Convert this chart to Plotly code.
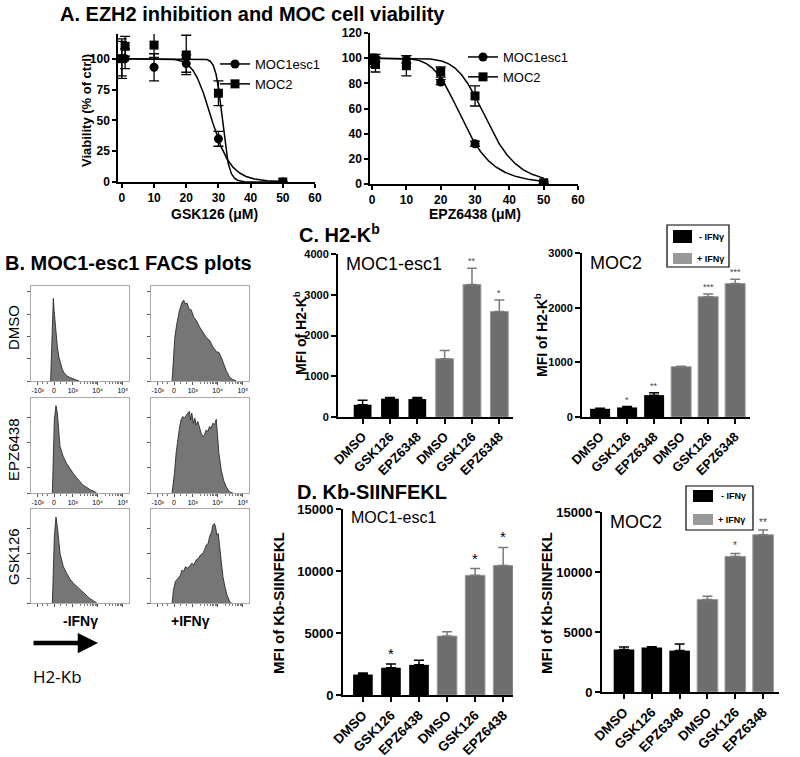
import numpy as np
import plotly.graph_objects as go

W, H = 800, 757
FONT = "Liberation Sans, Arial, sans-serif"

# ---------------- Panel A data ----------------
dose_gsk = [0, 1, 10, 20, 30, 50]
gsk_moc1 = [100, 100, 93, 96, 35, 0]
gsk_moc1_err = [16, 8, 11, 7, 6, 0]
gsk_moc2 = [100, 110, 111, 103, 72, 0]
gsk_moc2_err = [14, 8, 10, 16, 10, 0]
gsk_fit = {"MOC1esc1": (28.0, 9.5), "MOC2": (31.2, 30.0)}   # (IC50, Hill slope)

dose_epz = [0, 1, 10, 20, 30, 50]
epz_moc1 = [100, 100, 99, 81, 32, 0]
epz_moc1_err = [3, 3, 3, 2, 2, 0]
epz_moc2 = [98, 95, 94, 89, 70, 1]
epz_moc2_err = [5, 6, 8, 4, 8, 1]
epz_fit = {"MOC1esc1": (26.5, 6.0), "MOC2": (33.5, 7.5)}

# ---------------- Panel B data (FACS histograms; channel 0-1000, % of box) ----------------
fl_tick_pos = [68, 235, 426, 680, 936]
fl_tick_txt = ["-10³", "0", "10³", "10⁴", "10⁵"]

dmso_neg_x = [200, 207, 214, 221, 228, 236, 245, 252, 260, 269, 285, 303, 320, 338, 365, 390, 415, 441, 470, 493]
dmso_neg_y = [0, 25, 50, 72, 87, 74, 62, 55, 45, 36, 25, 17, 12, 8.6, 5.5, 4, 2.8, 1.7, 0.7, 0]
dmso_pos_x = [215, 229, 243, 263, 290, 317, 334, 352, 369, 386, 410, 437, 461, 495, 529, 563, 597, 631, 666, 693, 717, 741, 768, 802, 836, 870]
dmso_pos_y = [0, 22, 46, 60, 74, 83, 85, 81, 82, 76, 75, 67, 64, 57, 52, 46, 43, 36, 31, 30, 25, 18, 11, 4, 1.4, 0]
epz_neg_x = [218, 228, 238, 255, 269, 296, 330, 364, 398, 432, 466, 500, 534, 568, 602, 636, 670]
epz_neg_y = [0, 42, 77, 92, 84, 49, 38, 31, 25, 20.5, 16, 12, 8, 6, 3.5, 2, 0]
epz_pos_x = [215, 239, 256, 273, 290, 307, 324, 341, 358, 375, 392, 403, 416, 433, 447, 461, 478, 495, 512,
             529, 546, 563, 580, 597, 614, 631, 648, 666, 676, 693, 717, 741, 768, 802, 836]
epz_pos_y = [0, 20.5, 41.7, 55.8, 68.2, 77, 80.6, 78.8, 82.3, 84.1, 85.9, 77, 84.1, 73.5, 78.8, 71.7, 75.3, 68.2,
             62.9, 59.4, 61.1, 66.4, 64.7, 70, 68.2, 73.5, 71.7, 77.7, 62.9, 41.7, 24, 13.4, 6.4, 1.1, 0]
gsk_neg_x = [218, 228, 238, 255, 269, 296, 330, 364, 398, 432, 466, 500, 534, 568, 602, 636, 670]
gsk_neg_y = [0, 38.7, 70.4, 91.5, 81, 52.8, 38.7, 31.7, 25.4, 21.1, 17.6, 14.1, 10.6, 7, 4.6, 2.5, 0]
gsk_pos_x = [215, 229, 249, 273, 297, 317, 334, 352, 369, 392, 416, 437, 461, 485, 505, 529, 546, 563, 584,
             597, 618, 631, 648, 659, 672, 686, 700, 717, 734, 754, 775, 802, 819]
gsk_pos_y = [0, 14.1, 22.9, 26.4, 28.9, 35.2, 33.5, 38.7, 37, 38.7, 42.3, 40.5, 45.8, 47.5, 51.1, 52.8, 56.3,
             61.6, 63.4, 70.4, 75.7, 82.7, 84.5, 81, 72.2, 73.9, 59.9, 42.3, 28.2, 17.6, 8.8, 1.8, 0]

# ---------------- Panels C / D data ----------------
c_cats = ["DMSO", "GSK126", "EPZ6348", "DMSO", "GSK126", "EPZ6348"]
d1_cats = ["DMSO", "GSK126", "EPZ6438", "DMSO", "GSK126", "EPZ6438"]
d2_cats = ["DMSO", "GSK126", "EPZ6348", "DMSO", "GSK126", "EPZ6348"]

c1_vals = [300, 450, 440, 1430, 3250, 2590]
c1_errs = [110, 30, 40, 200, 400, 280]
c1_stars = ["", "", "", "", "**", "*"]
c2_vals = [150, 175, 400, 920, 2200, 2440]
c2_errs = [10, 15, 45, 10, 50, 80]
c2_stars = ["", "*", "**", "", "***", "***"]
d1_vals = [1650, 2200, 2430, 4750, 9650, 10450]
d1_errs = [120, 300, 380, 350, 550, 1450]
d1_stars = ["", "*", "", "", "*", "*"]
d2_vals = [3550, 3700, 3450, 7700, 11300, 13100]
d2_errs = [200, 80, 550, 280, 250, 400]
d2_stars = ["", "", "", "", "*", "**"]

GRAY = "#6e6e6e"
GRAY_EDGE = "#9a9a9a"
HIST_FILL = "#767676"


def dx(a, b):
    return [a / W, b / W]


def dy(top, bottom):
    return [1 - bottom / H, 1 - top / H]


fig = go.Figure()
ann = []
shapes = []


def txt(x, y, s, size, bold=False, xanchor="center", yanchor="middle", angle=0, family=FONT, color="black"):
    ann.append(dict(x=x / W, y=1 - y / H, xref="paper", yref="paper", text=(f"<b>{s}</b>" if bold else s),
                    showarrow=False, xanchor=xanchor, yanchor=yanchor, textangle=angle,
                    font=dict(size=size, family=family, color=color)))


def hill(d, ic50, h):
    d = np.asarray(d, dtype=float)
    return 100.0 / (1.0 + (d / ic50) ** h)


# ---------------- Panel A ----------------
curve_x = np.linspace(0.0, 50.0, 400)
for (ax_id, dose, s1, e1, s2, e2, fit, leg) in [
    ("", dose_gsk, gsk_moc1, gsk_moc1_err, gsk_moc2, gsk_moc2_err, gsk_fit, "legend"),
    ("2", dose_epz, epz_moc1, epz_moc1_err, epz_moc2, epz_moc2_err, epz_fit, "legend2"),
]:
    xa, ya = "x" + ax_id, "y" + ax_id
    for name, vals, errs, sym in [("MOC1esc1", s1, e1, "circle"), ("MOC2", s2, e2, "square")]:
        ic50, h = fit[name]
        fig.add_trace(go.Scatter(x=curve_x, y=hill(curve_x, ic50, h), mode="lines",
                                 line=dict(color="black", width=1.5), xaxis=xa, yaxis=ya,
                                 showlegend=False, hoverinfo="skip"))
        fig.add_trace(go.Scatter(x=dose, y=vals, mode="markers",
                                 marker=dict(symbol=sym, size=9, color="black"),
                                 error_y=dict(type="data", array=errs, color="black", thickness=1.3, width=5),
                                 xaxis=xa, yaxis=ya, showlegend=False))
        fig.add_trace(go.Scatter(x=[None], y=[None], mode="lines+markers", name=name,
                                 marker=dict(symbol=sym, size=9, color="black"),
                                 line=dict(color="black", width=1.5), xaxis=xa, yaxis=ya,
                                 legend=leg, showlegend=True))

axA = dict(showline=True, linecolor="black", linewidth=1.5, ticks="outside", ticklen=4, tickwidth=1.5,
           tickcolor="black", showgrid=False, zeroline=False, automargin=False,
           tickfont=dict(size=12, family=FONT, color="black", weight="bold"))
fig.update_layout(
    xaxis=dict(domain=dx(118, 315), range=[-1.2, 60], tickvals=[0, 10, 20, 30, 40, 50, 60], anchor="y", **axA),
    yaxis=dict(domain=dy(34, 182), range=[0, 120], tickvals=[0, 25, 50, 75, 100], anchor="x", **axA),
    xaxis2=dict(domain=dx(370, 578), range=[-0.6, 60], tickvals=[0, 10, 20, 30, 40, 50, 60], anchor="y2", **axA),
    yaxis2=dict(domain=dy(33, 184), range=[0, 120], tickvals=[0, 20, 40, 60, 80, 100, 120], anchor="x2", **axA),
)
legA = dict(bgcolor="rgba(0,0,0,0)", font=dict(size=13, family=FONT, color="black"), xanchor="left",
            yanchor="top", itemwidth=30, tracegroupgap=0)
fig.update_layout(legend=dict(x=215 / W, y=1 - 49 / H, **legA),
                  legend2=dict(x=463 / W, y=1 - 42 / H, **legA))

txt(253, 14, "A. EZH2 inhibition and MOC cell viability", 20, bold=True)
txt(86, 111, "Viability (% of ctrl)", 13, bold=True, angle=-90)
txt(214, 214, "GSK126 (μM)", 14, bold=True)
txt(475, 214, "EPZ6438 (μM)", 14, bold=True)

# ---------------- Panel B ----------------
hists = [
    (dmso_neg_x, dmso_neg_y, (31, 129), (286, 381), 23.5, True),
    (dmso_pos_x, dmso_pos_y, (151, 249), (286, 381), 23.5, True),
    (epz_neg_x, epz_neg_y, (31, 129), (398, 493), 26.5, True),
    (epz_pos_x, epz_pos_y, (151, 249), (398, 493), 26.5, True),
    (gsk_neg_x, gsk_neg_y, (31, 129), (509, 603), 26.5, False),
    (gsk_pos_x, gsk_pos_y, (151, 249), (509, 603), 26.5, False),
]
minor_pos = []
for base, span in [(426, 254), (680, 256)]:
    for m in range(2, 10):
        minor_pos.append(base + span * np.log10(m))
minor_pos += [120, 170, 300, 360]
for i, (hx, hy, xd, yd, ydt, labels) in enumerate(hists):
    n = str(3 + i)
    fig.add_trace(go.Scatter(x=hx, y=hy, mode="lines", fill="tozeroy", fillcolor=HIST_FILL,
                             line=dict(color="#1a1a1a", width=0.8), xaxis="x" + n, yaxis="y" + n,
                             showlegend=False, hoverinfo="skip"))
    fig.layout["xaxis" + n] = dict(domain=dx(*xd), range=[0, 1000], anchor="y" + n, showline=True, mirror=True,
                                   linecolor="#a8a8a8", linewidth=1, ticks="outside", ticklen=3, tickwidth=1,
                                   tickcolor="#555", tickvals=fl_tick_pos, ticktext=fl_tick_txt,
                                   showticklabels=labels,
                                   tickfont=dict(size=7, family=FONT, color="black"),
                                   minor=dict(tickvals=minor_pos, ticks="outside", ticklen=2, tickcolor="#777"),
                                   showgrid=False, zeroline=False, automargin=False)
    fig.layout["yaxis" + n] = dict(domain=dy(*yd), range=[0, 100], anchor="x" + n, showline=True, mirror=True,
                                   linecolor="#a8a8a8", linewidth=1, ticks="outside", ticklen=3, tickwidth=1,
                                   tickcolor="#555", dtick=ydt, showticklabels=False, showgrid=False,
                                   zeroline=False, automargin=False)

txt(3, 263, "B. MOC1-esc1 FACS plots", 20, bold=True, xanchor="left")
txt(13, 328, "DMSO", 15, angle=-90)
txt(13, 450, "EPZ6438", 15, angle=-90)
txt(13, 557, "GSK126", 15, angle=-90)
txt(80, 621, "-IFNγ", 14, bold=True)
txt(190, 621, "+IFNγ", 14, bold=True)
ann.append(dict(x=98 / W, y=1 - 643 / H, xref="paper", yref="paper", ax=-66, ay=0, axref="pixel",
                ayref="pixel", showarrow=True, arrowhead=2, arrowsize=0.9, arrowwidth=4.5, arrowcolor="black",
                text=""))
txt(31, 676, "H2-Kb", 17, xanchor="left", family="Open Sans, sans-serif")

# ---------------- Panels C / D ----------------
bar_panels = [
    ("9", c_cats, c1_vals, c1_errs, c1_stars, (338, 513), (254, 417), [-0.9, 5.5], [0, 4000], 1000, 0.65,
     11, 13, dict(size=9, color="#444444"), "MOC1-esc1", 18),
    ("10", c_cats, c2_vals, c2_errs, c2_stars, (582, 750), (253, 417), [-0.67, 5.55], [0, 3000], 1000, 0.74,
     11, 13, dict(size=9, color="#444444"), "MOC2", 18),
    ("11", d1_cats, d1_vals, d1_errs, d1_stars, (343, 513), (509, 695), [-0.71, 5.35], [0, 15000], 5000, 0.7,
     13, 13.5, dict(size=15, color="black"), "MOC1-esc1", 16),
    ("12", d2_cats, d2_vals, d2_errs, d2_stars, (602, 779), (512, 692), [-0.79, 5.57], [0, 15000], 5000, 0.74,
     13, 13.5, dict(size=10, color="#444444"), "MOC2", 18),
]
for (n, cats, vals, errs, stars, xd, yd, xr, yr, ydt, bw, yfs, xfs, starfont, lab, labfs) in bar_panels:
    pos = list(range(len(cats)))
    k = len(cats) // 2
    fig.add_trace(go.Bar(x=pos[:k], y=vals[:k], width=bw, marker=dict(color="black", line=dict(width=0)),
                         error_y=dict(type="data", symmetric=False, array=errs[:k], arrayminus=[0] * k,
                                      color="black", thickness=1.5, width=5),
                         xaxis="x" + n, yaxis="y" + n, showlegend=False))
    fig.add_trace(go.Bar(x=pos[k:], y=vals[k:], width=bw,
                         marker=dict(color=GRAY, line=dict(color=GRAY_EDGE, width=1)),
                         error_y=dict(type="data", symmetric=False, array=errs[k:], arrayminus=[0] * k,
                                      color="#7a7a7a", thickness=1.5, width=5),
                         xaxis="x" + n, yaxis="y" + n, showlegend=False))
    fig.layout["xaxis" + n] = dict(domain=dx(*xd), range=xr, anchor="y" + n, showline=True, linecolor="black",
                                   linewidth=2, ticks="outside", ticklen=5, tickwidth=1.5, tickcolor="black",
                                   tickvals=pos, ticktext=cats, tickangle=-45, showgrid=False, zeroline=False,
                                   automargin=False,
                                   tickfont=dict(size=xfs, family=FONT, color="black", weight="bold"))
    fig.layout["yaxis" + n] = dict(domain=dy(*yd), range=yr, anchor="x" + n, showline=True, linecolor="black",
                                   linewidth=2, ticks="outside", ticklen=5, tickwidth=1.5, tickcolor="black",
                                   dtick=ydt, tickformat="d", showgrid=False, zeroline=False, automargin=False,
                                   tickfont=dict(size=yfs, family=FONT, color="black", weight="bold"))
    for i, s in enumerate(stars):
        if s:
            ann.append(dict(x=pos[i], y=vals[i] + errs[i], xref="x" + n, yref="y" + n, text=s, showarrow=False,
                            yanchor="bottom", yshift=0, font=dict(family=FONT, **starfont)))
    ann.append(dict(x=(xd[0] + 6) / W, y=1 - yd[0] / H, xref="paper", yref="paper", text=lab, showarrow=False,
                    xanchor="left", yanchor="top", yshift=2, font=dict(size=labfs, family=FONT, color="black")))

txt(297, 233, "C. H2-K<sup>b</sup>", 20, bold=True, xanchor="left")
txt(300, 333, "MFI of H2-K<sup>b</sup>", 14, bold=True, angle=-90)
txt(541, 335, "MFI of H2-K<sup>b</sup>", 14, bold=True, angle=-90)
txt(295, 492, "D. Kb-SIINFEKL", 20, bold=True, xanchor="left")
txt(278, 603, "MFI of Kb-SIINFEKL", 15, bold=True, angle=-90)
txt(546, 603, "MFI of Kb-SIINFEKL", 15, bold=True, angle=-90)

# legends for C right and D right
for (bx0, by0, bx1, by1, sq1, sq2, t1, t2) in [
    (667, 225, 729, 267, (673, 230, 692, 243), (673, 253, 692, 264), (697, 237), (695, 259)),
    (686, 486, 753, 530, (693, 490, 713, 502), (693, 514, 713, 525), (719, 496), (716, 520)),
]:
    shapes.append(dict(type="rect", xref="paper", yref="paper", x0=bx0 / W, x1=bx1 / W, y0=1 - by1 / H,
                       y1=1 - by0 / H, line=dict(color="black", width=1.2), fillcolor="white"))
    shapes.append(dict(type="rect", xref="paper", yref="paper", x0=sq1[0] / W, x1=sq1[2] / W, y0=1 - sq1[3] / H,
                       y1=1 - sq1[1] / H, line=dict(width=0), fillcolor="black"))
    shapes.append(dict(type="rect", xref="paper", yref="paper", x0=sq2[0] / W, x1=sq2[2] / W, y0=1 - sq2[3] / H,
                       y1=1 - sq2[1] / H, line=dict(width=0), fillcolor="#999999"))
    txt(t1[0], t1[1], "- IFNγ", 9, bold=True, xanchor="left")
    txt(t2[0], t2[1], "+ IFNγ", 9, bold=True, xanchor="left")

fig.update_layout(template="none", width=W, height=H, margin=dict(l=0, r=0, t=0, b=0, autoexpand=False),
                  paper_bgcolor="white", plot_bgcolor="white", annotations=ann, shapes=shapes,
                  barmode="overlay", font=dict(family=FONT, color="black"))
fig.write_html("out.html", config={"displayModeBar": False},
               post_script="document.body.style.margin='0';document.body.style.padding='0';"
                           "document.documentElement.style.overflow='hidden';")
